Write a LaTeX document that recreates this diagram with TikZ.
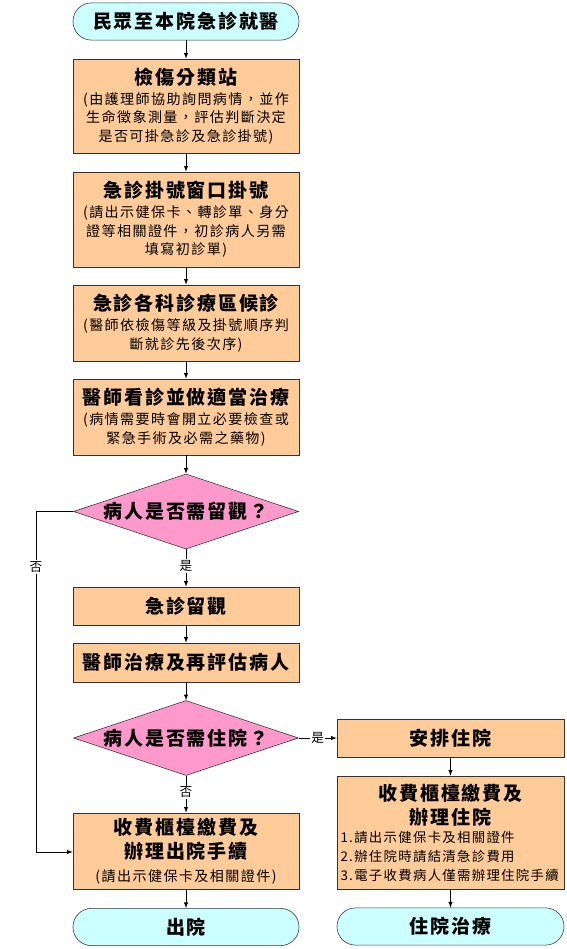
\documentclass[tikz,border=0pt]{standalone}
\usepackage{fontspec}
\setmainfont{Noto Sans CJK TC}
\newfontfamily\cjkfont[LetterSpace=10]{Noto Sans CJK TC}
\usepackage{tikz}
\usetikzlibrary{shapes.geometric, arrows, positioning}
\definecolor{steporange}{HTML}{FFCC99}
\definecolor{endcyan}{HTML}{CCFFFF}
\definecolor{askpink}{HTML}{FF99CC}
\newcommand{\titlesize}{\cjkfont\bfseries\fontsize{13.5}{16}\selectfont}
\newcommand{\notesize}{\cjkfont\fontsize{10}{13.2}\selectfont}
\newcommand{\listsize}{\cjkfont\fontsize{9.5}{13.2}\selectfont}
\tikzstyle{arrow} = [->,>=latex]
\tikzstyle{stepbox} = [draw=black!80, fill=steporange, minimum width=5.65cm, align=center, inner sep=2pt, font=\notesize]
\tikzstyle{endbox} = [draw=black!80, fill=endcyan, rounded corners=0.46cm, minimum width=5.65cm, minimum height=0.93cm, font=\titlesize]
\tikzstyle{askbox} = [diamond, draw=black!80, fill=askpink, aspect=3, inner sep=0pt, minimum width=5.625cm, minimum height=1.875cm, font=\titlesize]
\tikzstyle{tag} = [fill=white, inner sep=1pt, font=\cjkfont\fontsize{9}{10}\selectfont]

\begin{document}
\begin{tikzpicture}
\useasboundingbox (0,0) rectangle (14.175,23.725);

% Main column
\node[endbox] (start) at (4.65,23.1875) {民眾至本院急診就醫};
\node[stepbox, minimum height=2.35cm] (triage) at (4.65,21.075)
  {{\titlesize 檢傷分類站}\\[1pt](由護理師協助詢問病情，並作\\生命徵象測量，評估判斷決定\\是否可掛急診及急診掛號)};
\node[stepbox, minimum height=2.375cm] (register) at (4.65,18.2375)
  {{\titlesize 急診掛號窗口掛號}\\[1pt](請出示健保卡、轉診單、身分\\證等相關證件，初診病人另需\\填寫初診單)};
\node[stepbox, minimum height=1.9cm] (wait) at (4.65,15.65)
  {{\titlesize 急診各科診療區候診}\\[1pt](醫師依檢傷等級及掛號順序判\\斷就診先後次序)};
\node[stepbox, minimum height=1.9cm] (treat) at (4.65,13.3)
  {{\titlesize 醫師看診並做適當治療}\\[1pt](病情需要時會開立必要檢查或\\緊急手術及必需之藥物)};
\node[askbox] (askobs) at (4.65,10.9375) {病人是否需留觀？};
\node[stepbox, minimum height=0.95cm, font=\titlesize] (observe) at (4.65,8.575) {急診留觀};
\node[stepbox, minimum height=0.975cm, font=\titlesize] (reassess) at (4.65,7.1625) {醫師治療及再評估病人};
\node[askbox] (askadmit) at (4.65,5.275) {病人是否需住院？};
\node[stepbox, minimum height=1.9cm] (discharge) at (4.65,2.45)
  {{\titlesize 收費櫃檯繳費及}\\[3pt]{\titlesize 辦理出院手續}\\[3pt](請出示健保卡及相關證件)};
\node[endbox] (leave) at (4.65,0.55) {出院};

% Right column
\node[stepbox, minimum width=5.675cm, minimum height=0.95cm, font=\titlesize] (arrange) at (11.2625,5.275) {安排住院};
\node[stepbox, minimum width=5.675cm, minimum height=2.825cm, font=\listsize] (admit) at (11.2625,2.9125)
  {{\titlesize 收費櫃檯繳費及}\\[3pt]{\titlesize 辦理住院}\\
   \makebox[5.5cm][l]{1.請出示健保卡及相關證件}\\
   \makebox[5.5cm][l]{2.辦住院時請結清急診費用}\\
   \makebox[5.5cm][l]{3.電子收費病人僅需辦理住院手續}};
\node[endbox, minimum width=5.675cm] (stay) at (11.2625,0.5625) {住院治療};

% Connectors
\coordinate (nocorner) at (0.9,10.9375);
\coordinate (nobottom) at (0.9,2.425);
\draw[arrow] (start) -- (triage);
\draw[arrow] (triage) -- (register);
\draw[arrow] (register) -- (wait);
\draw[arrow] (wait) -- (treat);
\draw[arrow] (treat) -- (askobs);
\draw[arrow] (askobs) -- node[tag, pos=0.45] {是} (observe);
\draw[arrow] (observe) -- (reassess);
\draw[arrow] (reassess) -- (askadmit);
\draw[arrow] (askadmit) -- node[tag, pos=0.45] {否} (discharge);
\draw[arrow] (discharge) -- (leave);
\draw[arrow] (askobs.west) -- (nocorner) -- node[tag, pos=0.163] {否} (nobottom) -- (discharge.west |- nobottom);
\draw[arrow] (askadmit) -- node[tag] {是} (arrange);
\draw[arrow] (arrange) -- (admit);
\draw[arrow] (admit) -- (stay);
\end{tikzpicture}
\end{document}
